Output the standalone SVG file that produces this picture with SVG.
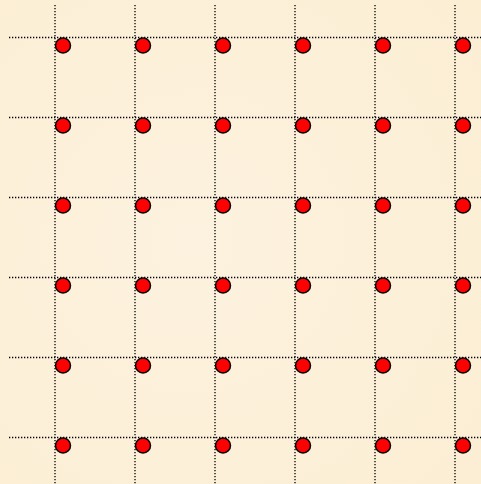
<svg xmlns="http://www.w3.org/2000/svg" width="481" height="484" viewBox="0 0 481 484">
<style>
.g{stroke:#000;stroke-width:1.3;stroke-dasharray:1.3 1.7;fill:none}
.d{fill:#f00;stroke:#000;stroke-width:1.5}
</style>
<defs>
<radialGradient id="bg" cx="0.4" cy="0.5" r="0.8">
<stop offset="0" stop-color="#fdf2df"/>
<stop offset="1" stop-color="#fbeed3"/>
</radialGradient>
</defs>
<rect width="481" height="484" fill="url(#bg)"/>
<g id="connectors" class="g">
<line x1="9" y1="37.5" x2="481" y2="37.5"/>
<line x1="9" y1="117.5" x2="481" y2="117.5"/>
<line x1="9" y1="197.5" x2="481" y2="197.5"/>
<line x1="9" y1="277.5" x2="481" y2="277.5"/>
<line x1="9" y1="357.5" x2="481" y2="357.5"/>
<line x1="9" y1="437.5" x2="481" y2="437.5"/>
<line x1="55" y1="5" x2="55" y2="484"/>
<line x1="135" y1="5" x2="135" y2="484"/>
<line x1="215" y1="5" x2="215" y2="484"/>
<line x1="295" y1="5" x2="295" y2="484"/>
<line x1="375" y1="5" x2="375" y2="484"/>
<line x1="455" y1="5" x2="455" y2="484"/>
</g>
<g id="nodes" class="d">
<g id="r1"><circle cx="63" cy="45.5" r="7.5"/><circle cx="143" cy="45.5" r="7.5"/><circle cx="223" cy="45.5" r="7.5"/><circle cx="303" cy="45.5" r="7.5"/><circle cx="383" cy="45.5" r="7.5"/><circle cx="463" cy="45.5" r="7.5"/></g>
<g id="r2"><circle cx="63" cy="125.5" r="7.5"/><circle cx="143" cy="125.5" r="7.5"/><circle cx="223" cy="125.5" r="7.5"/><circle cx="303" cy="125.5" r="7.5"/><circle cx="383" cy="125.5" r="7.5"/><circle cx="463" cy="125.5" r="7.5"/></g>
<g id="r3"><circle cx="63" cy="205.5" r="7.5"/><circle cx="143" cy="205.5" r="7.5"/><circle cx="223" cy="205.5" r="7.5"/><circle cx="303" cy="205.5" r="7.5"/><circle cx="383" cy="205.5" r="7.5"/><circle cx="463" cy="205.5" r="7.5"/></g>
<g id="r4"><circle cx="63" cy="285.5" r="7.5"/><circle cx="143" cy="285.5" r="7.5"/><circle cx="223" cy="285.5" r="7.5"/><circle cx="303" cy="285.5" r="7.5"/><circle cx="383" cy="285.5" r="7.5"/><circle cx="463" cy="285.5" r="7.5"/></g>
<g id="r5"><circle cx="63" cy="365.5" r="7.5"/><circle cx="143" cy="365.5" r="7.5"/><circle cx="223" cy="365.5" r="7.5"/><circle cx="303" cy="365.5" r="7.5"/><circle cx="383" cy="365.5" r="7.5"/><circle cx="463" cy="365.5" r="7.5"/></g>
<g id="r6"><circle cx="63" cy="445.5" r="7.5"/><circle cx="143" cy="445.5" r="7.5"/><circle cx="223" cy="445.5" r="7.5"/><circle cx="303" cy="445.5" r="7.5"/><circle cx="383" cy="445.5" r="7.5"/><circle cx="463" cy="445.5" r="7.5"/></g>
</g>
</svg>
